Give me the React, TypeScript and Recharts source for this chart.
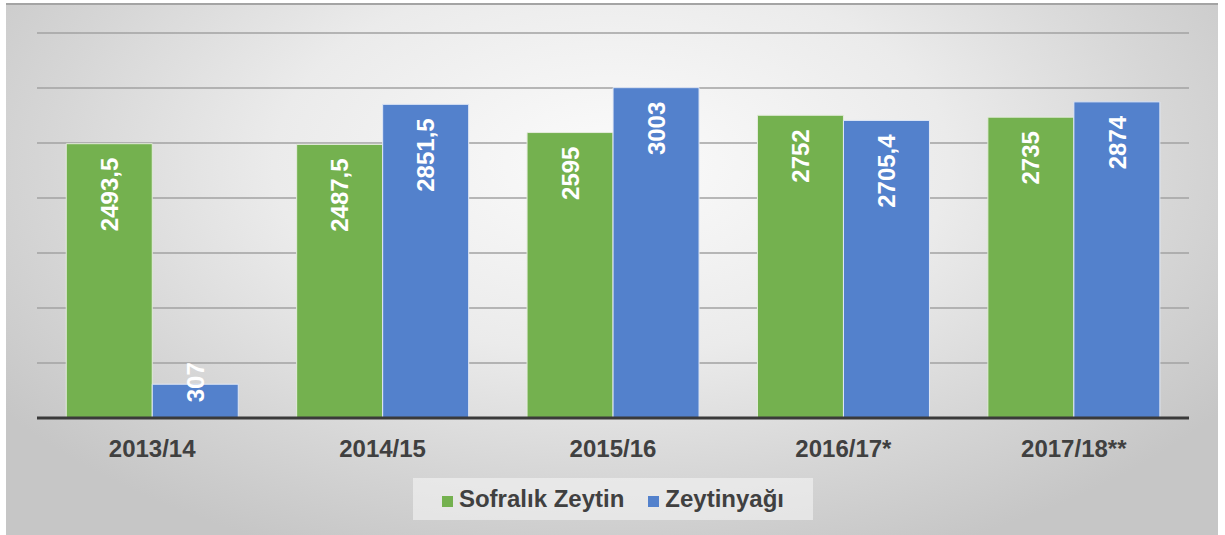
import { BarChart, Bar, XAxis, YAxis, CartesianGrid, Legend, LabelList } from "recharts";

const seasons = ["2013/14", "2014/15", "2015/16", "2016/17*", "2017/18**"];
const sofralik = [2493.5, 2487.5, 2595, 2752, 2735];
const zeytinyagi = [307, 2851.5, 3003, 2705.4, 2874];
const yTicks = [0, 500, 1000, 1500, 2000, 2500, 3000, 3500];

const GREEN = "#74b14f";
const BLUE = "#5381cc";
const FONT = "'Liberation Sans', Arial, sans-serif";

const rows = seasons.map((s, i) => ({ season: s, sofralik: sofralik[i], zeytinyagi: zeytinyagi[i] }));

const fmt = (v: number) => String(v).replace(".", ",");

// rotated white label near the top of each bar
function BarLabel(props: any) {
  const { x, y, width, height, value } = props;
  const cx = x + width / 2;
  const top = height > 60 ? y + 14 : y - 22;
  return (
    <text
      x={cx}
      y={top}
      transform={`rotate(-90, ${cx}, ${top})`}
      textAnchor="end"
      dy="0.36em"
      fill="#ffffff"
      fontFamily={FONT}
      fontWeight="bold"
      fontSize={24}
    >
      {fmt(value)}
    </text>
  );
}

function SeasonTick(props: any) {
  const { x, y, payload } = props;
  return (
    <text x={x} y={y + 39} textAnchor="middle" fill="#404040" fontFamily={FONT} fontWeight="bold" fontSize={24}>
      {payload.value}
    </text>
  );
}

function LegendBox() {
  const item = (color: string, label: string) => (
    <span style={{ display: "inline-flex", alignItems: "center", margin: "0 12px" }}>
      <span style={{ width: 11, height: 11, background: color, marginRight: 6, marginTop: 4 }} />
      <span>{label}</span>
    </span>
  );
  return (
    <div style={{ display: "flex", justifyContent: "center" }}>
      <div
        style={{
          width: 400,
          height: 42,
          background: "rgba(248,248,248,0.55)",
          display: "flex",
          alignItems: "center",
          justifyContent: "center",
          fontFamily: FONT,
          fontWeight: "bold",
          fontSize: 24,
          color: "#404040",
        }}
      >
        {item(GREEN, "Sofralık Zeytin")}
        {item(BLUE, "Zeytinyağı")}
      </div>
    </div>
  );
}

export default function App() {
  return (
    <div
      style={{
        position: "absolute",
        left: 6,
        top: 3,
        width: 1212,
        height: 532,
        background:
          "radial-gradient(ellipse 62% 80% at 50% 30%, #fbfbfb 0%, #ebebeb 45%, #d6d6d6 75%, #c6c6c6 100%)",
        boxShadow: "inset 0 2px 0 #a4a4a4",
      }}
    >
      <BarChart
        width={1212}
        height={532}
        data={rows}
        margin={{ top: 30, right: 29, left: 31, bottom: 15 }}
        barCategoryGap="12.7%"
        barGap={0}
      >
        <CartesianGrid vertical={false} stroke="#a2a2a2" strokeWidth={1.6} />
        <YAxis hide domain={[0, 3500]} ticks={yTicks} />
        <XAxis
          dataKey="season"
          height={60}
          tickLine={false}
          tickSize={0}
          tickMargin={0}
          axisLine={{ stroke: "#3a3a3a", strokeWidth: 3 }}
          tick={<SeasonTick />}
        />
        <Legend verticalAlign="bottom" height={42} content={<LegendBox />} />
        <Bar dataKey="sofralik" name="Sofralık Zeytin" fill={GREEN} stroke="#e4ecdc" strokeWidth={1} isAnimationActive={false}>
          <LabelList dataKey="sofralik" content={<BarLabel />} />
        </Bar>
        <Bar dataKey="zeytinyagi" name="Zeytinyağı" fill={BLUE} stroke="#e0e8f6" strokeWidth={1} isAnimationActive={false}>
          <LabelList dataKey="zeytinyagi" content={<BarLabel />} />
        </Bar>
      </BarChart>
    </div>
  );
}
